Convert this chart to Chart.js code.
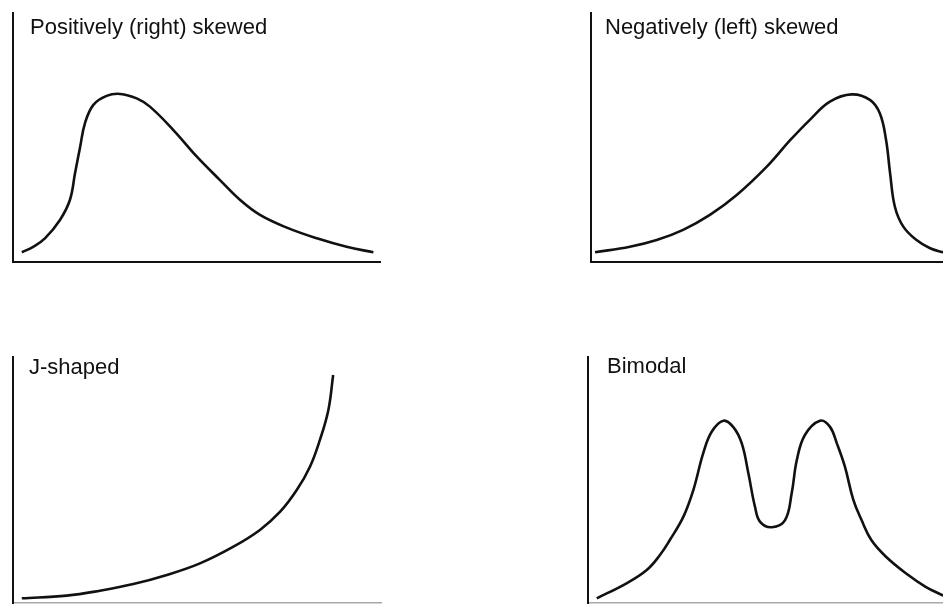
<!DOCTYPE html>
<html>
<head>
<meta charset="utf-8">
<title>Distribution shapes</title>
<script src="https://cdn.jsdelivr.net/npm/chart.js@4/dist/chart.umd.min.js"></script>
<style>
  html, body { margin: 0; padding: 0; background: #fff; }
  #wrap { position: relative; width: 943px; height: 605px; overflow: hidden; }
  #wrap canvas { position: absolute; }
</style>
</head>
<body>
<div id="wrap">
  <canvas id="c1" width="387" height="269" style="left:3px;top:3px"></canvas>
  <canvas id="c2" width="387" height="269" style="left:581px;top:3px"></canvas>
  <canvas id="c3" width="388" height="266" style="left:3px;top:347px"></canvas>
  <canvas id="c4" width="387" height="266" style="left:578px;top:347px"></canvas>
</div>
<script>
// curve values, x and y both on a 0-100 scale
const rightSkewX = [2.4, 5.5, 8.7, 12.8, 15.5, 16.9, 18.3, 19.6, 21.9, 25.5, 29.2, 33.7, 37.3, 43.7, 50.1, 56.4, 61.9, 67.3, 74.6, 82.8, 90.9, 98.2];
const rightSkewY = [3.9, 6.1, 9.5, 16.9, 24.9, 35.6, 46.3, 55.7, 63.1, 66.7, 67.5, 65.7, 62.4, 53.0, 42.3, 32.9, 24.9, 18.9, 13.8, 9.5, 6.1, 3.9];

const leftSkewX = [1.1, 10.6, 17.9, 25.1, 32.4, 39.7, 47.9, 54.2, 59.7, 65.1, 71.0, 76.0, 78.7, 80.4, 81.5, 82.8, 85.1, 88.7, 92.4, 96.0, 97.6];
const leftSkewY = [3.9, 6.1, 8.8, 12.9, 18.9, 26.9, 38.3, 48.8, 57.2, 64.4, 67.3, 65.1, 59.7, 49.0, 35.6, 22.2, 14.2, 8.8, 5.5, 3.9, 3.5];

const jShapeX = [2.4, 14.6, 23.6, 32.7, 41.8, 50.8, 59.9, 67.1, 72.6, 77.1, 80.7, 83.4, 85.7, 87.0];
const jShapeY = [1.9, 3.0, 5.0, 7.7, 11.4, 16.1, 22.9, 29.7, 37.1, 45.9, 55.4, 66.3, 78.5, 92.7];

const bimodalX = [2.4, 10.5, 16.0, 19.6, 22.3, 26.0, 28.7, 31.4, 33.7, 36.9, 39.6, 41.9, 43.7, 45.5, 46.9, 50.1, 53.7, 55.5, 56.9, 59.1, 63.2, 65.9, 67.8, 70.0, 72.3, 74.6, 77.2, 81.2, 86.6, 92.0, 96.8];
const bimodalY = [1.9, 8.0, 13.4, 19.5, 25.6, 35.1, 45.9, 60.9, 69.6, 74.1, 71.5, 64.9, 52.7, 39.1, 33.0, 30.8, 33.7, 44.6, 58.1, 68.3, 74.1, 71.7, 64.9, 55.4, 41.9, 33.5, 25.6, 18.8, 12.1, 6.6, 3.0];

const titles = ["Positively (right) skewed", "Negatively (left) skewed", "J-shaped", "Bimodal"];

function toPoints(xs, ys) {
  return xs.map((x, i) => ({ x: x, y: ys[i] }));
}

// draws the panel caption inside the plot area, next to the y axis
const panelTitle = {
  id: "panelTitle",
  afterDraw(chart, args, opts) {
    const { ctx, chartArea } = chart;
    ctx.save();
    ctx.font = "22px 'Liberation Sans', Arial, sans-serif";
    ctx.fillStyle = "#111";
    ctx.textBaseline = "alphabetic";
    ctx.textAlign = "left";
    ctx.fillText(opts.text, chartArea.left + opts.dx, chartArea.top + opts.dy);
    ctx.restore();
  },
};

function axis(color, width) {
  return {
    type: "linear",
    min: 0,
    max: 100,
    ticks: { display: false },
    grid: { display: false, drawTicks: false },
    border: { display: true, color: color, width: width },
  };
}

function drawPanel(id, xs, ys, title, dx, dy, xAxisColor, xAxisWidth) {
  new Chart(document.getElementById(id), {
    type: "line",
    data: {
      datasets: [
        {
          data: toPoints(xs, ys),
          borderColor: "#111",
          borderWidth: 2.6,
          pointRadius: 0,
          tension: 0.4,
          fill: false,
        },
      ],
    },
    options: {
      responsive: false,
      animation: false,
      devicePixelRatio: 1,
      layout: { padding: 10, autoPadding: false },
      scales: {
        x: axis(xAxisColor, xAxisWidth),
        y: axis("#111", 2),
      },
      plugins: {
        legend: { display: false },
        tooltip: { enabled: false },
        panelTitle: { text: title, dx: dx, dy: dy },
      },
    },
    plugins: [panelTitle],
  });
}

drawPanel("c1", rightSkewX, rightSkewY, titles[0], 17, 21, "#111", 2);
drawPanel("c2", leftSkewX, leftSkewY, titles[1], 14, 21, "#111", 2);
drawPanel("c3", jShapeX, jShapeY, titles[2], 16, 17, "#a8a8a8", 1.5);
drawPanel("c4", bimodalX, bimodalY, titles[3], 19, 16, "#a8a8a8", 1.5);
</script>
</body>
</html>
